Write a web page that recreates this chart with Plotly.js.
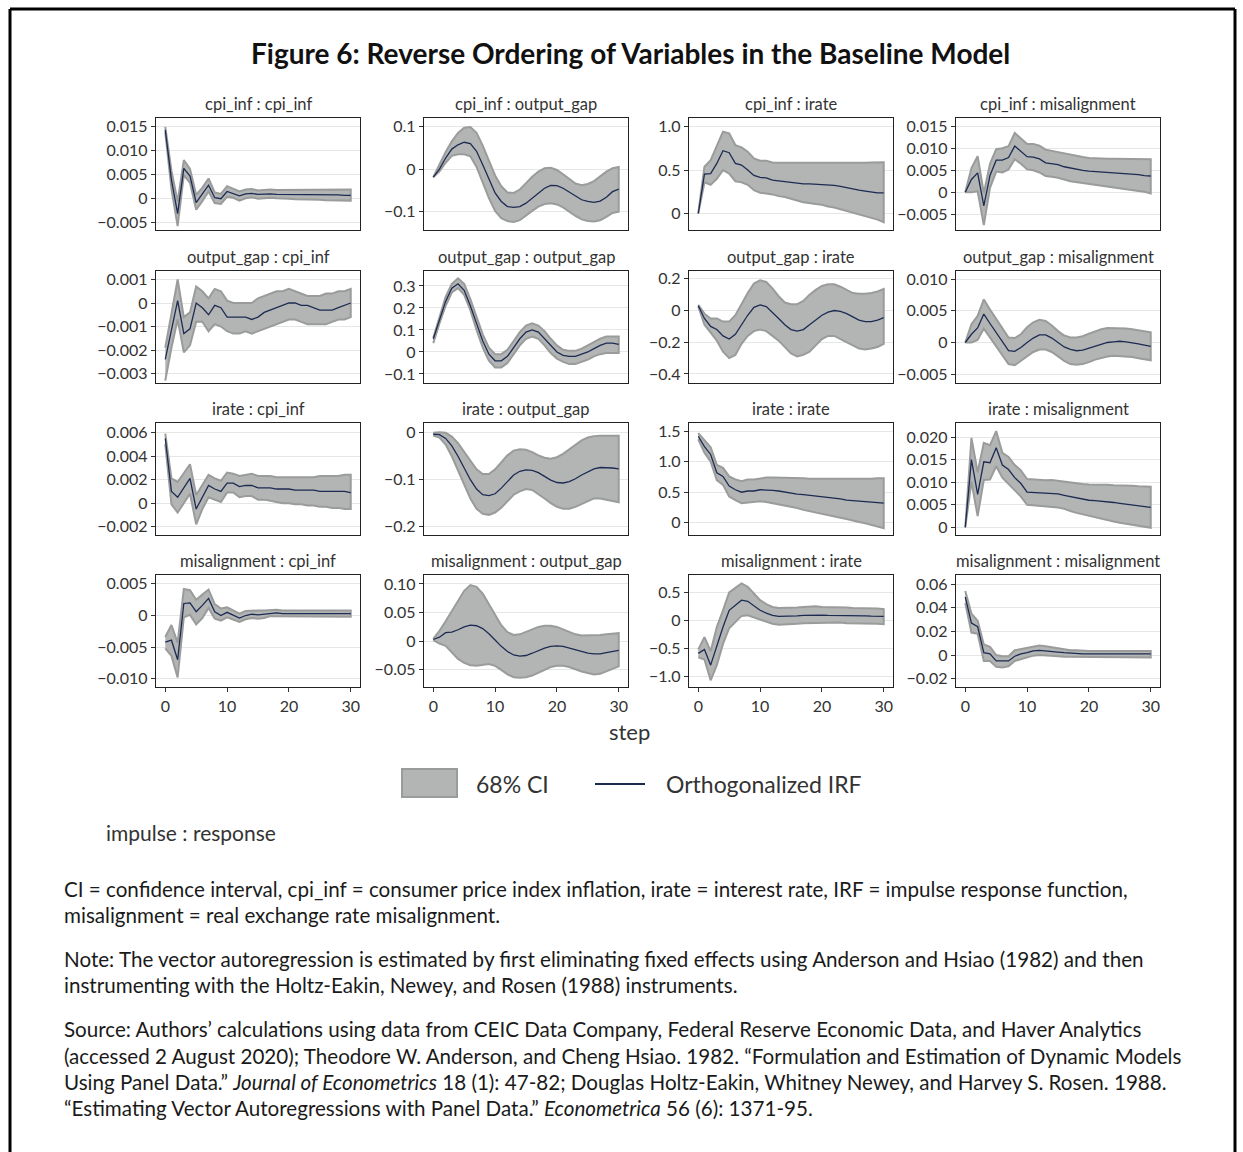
<!DOCTYPE html>
<html>
<head>
<meta charset="utf-8">
<script src="https://cdn.plot.ly/plotly-3.0.1.min.js"></script>
<style>html,body{margin:0;padding:0;background:#fff;}#chart{width:1243px;height:1152px;}</style>
</head>
<body>
<div id="chart"></div>
<script>
// ---------------- DATA ----------------
const steps = [0,1,2,3,4,5,6,7,8,9,10,11,12,13,14,15,16,17,18,19,20,21,22,23,24,25,26,27,28,29,30];

const impulses = ["cpi_inf","output_gap","irate","misalignment"];
const responses = ["cpi_inf","output_gap","irate","misalignment"];

// cpi_inf : cpi_inf
const cpi_cpi_irf = [0.0143,0.0039,-0.0031,0.0063,0.0047,-0.0008,0.0010,0.0028,0.0002,0.0000,0.0015,0.0011,0.0006,0.0010,0.0011,0.0009,0.0010,0.0010,0.0009,0.0009,0.0009,0.0009,0.0009,0.0008,0.0008,0.0008,0.0008,0.0008,0.0008,0.0007,0.0007];
const cpi_cpi_lo  = [0.0138,0.0020,-0.0057,0.0049,0.0033,-0.0023,-0.0005,0.0015,-0.0009,-0.0011,0.0004,0.0002,-0.0004,0.0001,0.0003,0.0000,0.0001,0.0002,0.0001,0.0000,0.0000,-0.0001,-0.0001,-0.0002,-0.0002,-0.0002,-0.0003,-0.0003,-0.0003,-0.0004,-0.0004];
const cpi_cpi_hi  = [0.0149,0.0058,-0.0006,0.0080,0.0062,0.0008,0.0023,0.0042,0.0013,0.0010,0.0026,0.0020,0.0015,0.0019,0.0020,0.0017,0.0018,0.0019,0.0018,0.0018,0.0018,0.0018,0.0018,0.0018,0.0018,0.0018,0.0019,0.0019,0.0019,0.0019,0.0019];

// cpi_inf : output_gap
const cpi_og_irf = [-0.019,0.000,0.026,0.047,0.057,0.063,0.060,0.042,0.010,-0.025,-0.056,-0.076,-0.088,-0.090,-0.088,-0.080,-0.068,-0.056,-0.045,-0.038,-0.039,-0.045,-0.054,-0.063,-0.072,-0.076,-0.078,-0.075,-0.066,-0.053,-0.047];
const cpi_og_lo  = [-0.019,-0.005,0.015,0.031,0.035,0.035,0.030,0.005,-0.030,-0.068,-0.098,-0.115,-0.122,-0.124,-0.120,-0.110,-0.098,-0.088,-0.082,-0.080,-0.083,-0.090,-0.100,-0.110,-0.118,-0.122,-0.123,-0.120,-0.112,-0.103,-0.100];
const cpi_og_hi  = [-0.019,0.010,0.040,0.065,0.085,0.097,0.099,0.085,0.055,0.020,-0.015,-0.040,-0.055,-0.056,-0.048,-0.033,-0.018,-0.006,0.002,0.003,-0.002,-0.012,-0.024,-0.034,-0.038,-0.035,-0.028,-0.017,-0.006,0.002,0.005];

// cpi_inf : irate
const cpi_ir_irf = [0.000,0.454,0.460,0.577,0.723,0.700,0.577,0.558,0.500,0.438,0.415,0.410,0.385,0.377,0.369,0.358,0.346,0.342,0.342,0.338,0.335,0.331,0.323,0.312,0.296,0.281,0.269,0.258,0.246,0.238,0.238];
const cpi_ir_lo  = [0.000,0.360,0.330,0.400,0.500,0.460,0.370,0.360,0.330,0.270,0.240,0.230,0.220,0.200,0.190,0.170,0.150,0.130,0.120,0.110,0.100,0.080,0.070,0.050,0.030,0.010,-0.010,-0.030,-0.050,-0.070,-0.100];
const cpi_ir_hi  = [0.000,0.538,0.615,0.770,0.942,0.923,0.788,0.762,0.712,0.635,0.608,0.608,0.588,0.585,0.585,0.580,0.580,0.580,0.580,0.580,0.578,0.578,0.578,0.578,0.580,0.582,0.584,0.586,0.588,0.590,0.590];

// cpi_inf : misalignment
const cpi_mis_irf = [0.0000,0.0029,0.0044,-0.0031,0.0038,0.0073,0.0073,0.0079,0.0105,0.0094,0.0081,0.0080,0.0076,0.0067,0.0065,0.0063,0.0058,0.0055,0.0053,0.0050,0.0048,0.0047,0.0046,0.0045,0.0044,0.0044,0.0043,0.0041,0.0040,0.0038,0.0037];
const cpi_mis_lo  = [0.0000,0.0000,0.0002,-0.0075,0.0010,0.0047,0.0045,0.0052,0.0075,0.0065,0.0052,0.0050,0.0045,0.0037,0.0035,0.0033,0.0029,0.0025,0.0023,0.0020,0.0018,0.0017,0.0015,0.0013,0.0011,0.0009,0.0007,0.0005,0.0003,0.0001,-0.0003];
const cpi_mis_hi  = [0.0000,0.0055,0.0082,-0.0002,0.0065,0.0098,0.0100,0.0105,0.0135,0.0122,0.0110,0.0110,0.0106,0.0097,0.0094,0.0092,0.0088,0.0085,0.0083,0.0080,0.0078,0.0077,0.0076,0.0076,0.0076,0.0076,0.0076,0.0076,0.0076,0.0075,0.0075];

// output_gap : cpi_inf
const og_cpi_irf = [-0.0024,-0.0012,0.0001,-0.0013,-0.0011,0.0000,-0.0002,-0.0005,-0.0001,-0.0002,-0.0006,-0.0006,-0.0006,-0.0006,-0.0007,-0.0006,-0.0004,-0.0003,-0.0002,-0.0001,0.0000,0.0000,-0.0001,-0.0001,-0.0002,-0.0003,-0.0003,-0.0003,-0.0002,-0.0001,0.0000];
const og_cpi_lo  = [-0.0033,-0.0019,-0.0007,-0.0021,-0.0018,-0.0008,-0.0008,-0.0012,-0.0009,-0.0010,-0.0012,-0.0013,-0.0013,-0.0012,-0.0013,-0.0012,-0.0011,-0.0010,-0.0009,-0.0008,-0.0007,-0.0007,-0.0008,-0.0009,-0.0009,-0.0009,-0.0009,-0.0008,-0.0007,-0.0007,-0.0006];
const og_cpi_hi  = [-0.0019,-0.0005,0.0010,-0.0006,-0.0004,0.0007,0.0005,0.0002,0.0006,0.0005,0.0001,0.0000,0.0000,0.0000,0.0000,0.0002,0.0003,0.0004,0.0005,0.0005,0.0006,0.0005,0.0004,0.0003,0.0003,0.0003,0.0004,0.0004,0.0005,0.0005,0.0006];

// output_gap : output_gap
const og_og_irf = [0.060,0.150,0.230,0.290,0.310,0.280,0.210,0.130,0.050,-0.010,-0.040,-0.040,-0.020,0.020,0.060,0.090,0.100,0.090,0.060,0.030,0.000,-0.015,-0.020,-0.020,-0.010,0.000,0.015,0.030,0.040,0.040,0.035];
const og_og_lo  = [0.040,0.130,0.210,0.270,0.290,0.260,0.190,0.100,0.020,-0.040,-0.070,-0.070,-0.050,-0.010,0.030,0.060,0.070,0.060,0.030,-0.005,-0.030,-0.045,-0.055,-0.055,-0.045,-0.035,-0.020,-0.010,-0.005,-0.005,-0.005];
const og_og_hi  = [0.065,0.160,0.250,0.310,0.335,0.310,0.240,0.160,0.080,0.020,-0.010,-0.010,0.010,0.050,0.090,0.120,0.130,0.120,0.095,0.060,0.030,0.010,0.005,0.005,0.015,0.030,0.045,0.060,0.070,0.070,0.070];

// output_gap : irate
const og_ir_irf = [0.030,-0.050,-0.100,-0.120,-0.160,-0.180,-0.150,-0.090,-0.030,0.020,0.035,0.025,-0.010,-0.050,-0.090,-0.120,-0.130,-0.120,-0.090,-0.060,-0.030,-0.010,0.000,-0.005,-0.020,-0.040,-0.060,-0.070,-0.070,-0.060,-0.045];
const og_ir_lo  = [0.025,-0.090,-0.140,-0.190,-0.260,-0.300,-0.280,-0.210,-0.160,-0.130,-0.120,-0.130,-0.160,-0.190,-0.230,-0.270,-0.290,-0.280,-0.260,-0.220,-0.180,-0.160,-0.160,-0.180,-0.200,-0.220,-0.240,-0.245,-0.240,-0.230,-0.210];
const og_ir_hi  = [0.035,-0.020,-0.050,-0.050,-0.070,-0.070,-0.030,0.040,0.110,0.170,0.190,0.180,0.140,0.090,0.050,0.040,0.040,0.060,0.100,0.130,0.155,0.165,0.165,0.150,0.130,0.110,0.105,0.105,0.110,0.120,0.135];

// output_gap : misalignment
const og_mis_irf = [0.0000,0.0013,0.0023,0.0045,0.0030,0.0016,0.0002,-0.0013,-0.0014,-0.0008,0.0000,0.0007,0.0012,0.0012,0.0007,0.0000,-0.0007,-0.0011,-0.0013,-0.0012,-0.0009,-0.0005,-0.0002,0.0000,0.0001,0.0002,0.0001,0.0000,-0.0002,-0.0004,-0.0006];
const og_mis_lo  = [0.0000,0.0000,0.0004,0.0022,0.0008,-0.0006,-0.0020,-0.0034,-0.0036,-0.0030,-0.0022,-0.0015,-0.0011,-0.0011,-0.0015,-0.0022,-0.0029,-0.0034,-0.0035,-0.0034,-0.0031,-0.0027,-0.0024,-0.0022,-0.0021,-0.0022,-0.0022,-0.0023,-0.0025,-0.0027,-0.0028];
const og_mis_hi  = [0.0000,0.0029,0.0042,0.0068,0.0052,0.0037,0.0024,0.0008,0.0007,0.0013,0.0024,0.0032,0.0036,0.0034,0.0027,0.0018,0.0011,0.0008,0.0008,0.0010,0.0014,0.0018,0.0021,0.0023,0.0023,0.0023,0.0022,0.0021,0.0019,0.0018,0.0016];

// irate : cpi_inf
const ir_cpi_irf = [0.0055,0.0010,0.0005,0.0013,0.0021,-0.0005,0.0005,0.0015,0.0012,0.0010,0.0017,0.0017,0.0014,0.0015,0.0015,0.0013,0.0013,0.0013,0.0012,0.0012,0.0012,0.0011,0.0011,0.0011,0.0011,0.0010,0.0010,0.0010,0.0010,0.0010,0.0009];
const ir_cpi_lo  = [0.0050,-0.0001,-0.0008,0.0000,0.0008,-0.0018,-0.0005,0.0005,0.0003,0.0001,0.0009,0.0009,0.0005,0.0006,0.0006,0.0003,0.0003,0.0002,0.0001,0.0000,0.0000,-0.0001,-0.0001,-0.0002,-0.0002,-0.0003,-0.0003,-0.0004,-0.0004,-0.0005,-0.0005];
const ir_cpi_hi  = [0.0059,0.0021,0.0018,0.0026,0.0033,0.0007,0.0015,0.0024,0.0021,0.0019,0.0026,0.0025,0.0023,0.0024,0.0025,0.0023,0.0023,0.0023,0.0022,0.0022,0.0022,0.0022,0.0022,0.0022,0.0022,0.0023,0.0023,0.0023,0.0023,0.0024,0.0024];

// irate : output_gap
const ir_og_irf = [-0.003,-0.004,-0.012,-0.028,-0.050,-0.075,-0.100,-0.120,-0.132,-0.134,-0.130,-0.118,-0.103,-0.090,-0.082,-0.079,-0.080,-0.085,-0.093,-0.101,-0.106,-0.107,-0.104,-0.098,-0.090,-0.083,-0.077,-0.074,-0.074,-0.075,-0.077];
const ir_og_lo  = [-0.006,-0.010,-0.025,-0.050,-0.080,-0.110,-0.140,-0.162,-0.173,-0.175,-0.170,-0.160,-0.145,-0.132,-0.125,-0.120,-0.122,-0.130,-0.140,-0.150,-0.158,-0.162,-0.162,-0.158,-0.152,-0.146,-0.140,-0.140,-0.142,-0.145,-0.148];
const ir_og_hi  = [0.000,0.001,0.000,-0.008,-0.022,-0.040,-0.060,-0.078,-0.088,-0.088,-0.078,-0.062,-0.048,-0.038,-0.035,-0.036,-0.041,-0.048,-0.053,-0.055,-0.052,-0.045,-0.035,-0.025,-0.016,-0.010,-0.007,-0.006,-0.006,-0.006,-0.006];

// irate : irate
const ir_ir_irf = [1.42,1.25,1.12,0.82,0.76,0.60,0.54,0.50,0.52,0.52,0.54,0.54,0.53,0.52,0.50,0.48,0.47,0.46,0.45,0.44,0.43,0.42,0.40,0.39,0.37,0.36,0.35,0.34,0.335,0.33,0.32];
const ir_ir_lo  = [1.37,1.15,1.00,0.70,0.62,0.43,0.37,0.32,0.34,0.34,0.35,0.34,0.32,0.31,0.28,0.26,0.24,0.21,0.19,0.17,0.15,0.13,0.10,0.08,0.06,0.04,0.01,-0.01,-0.04,-0.06,-0.09];
const ir_ir_hi  = [1.47,1.35,1.24,0.95,0.90,0.76,0.71,0.68,0.71,0.71,0.73,0.74,0.74,0.74,0.74,0.73,0.73,0.73,0.72,0.72,0.72,0.72,0.71,0.71,0.71,0.71,0.71,0.72,0.72,0.73,0.73];

// irate : misalignment
const ir_mis_irf = [0.0000,0.0150,0.0073,0.0145,0.0143,0.0176,0.0138,0.0128,0.0110,0.0097,0.0078,0.0077,0.0076,0.0075,0.0074,0.0074,0.0071,0.0068,0.0065,0.0062,0.0060,0.0059,0.0058,0.0056,0.0055,0.0053,0.0051,0.0049,0.0047,0.0046,0.0044];
const ir_mis_lo  = [0.0000,0.0101,0.0025,0.0105,0.0106,0.0135,0.0110,0.0098,0.0082,0.0068,0.0050,0.0048,0.0048,0.0046,0.0045,0.0044,0.0041,0.0036,0.0032,0.0028,0.0025,0.0022,0.0019,0.0016,0.0013,0.0010,0.0008,0.0006,0.0004,0.0001,-0.0001];
const ir_mis_hi  = [0.0000,0.0198,0.0122,0.0187,0.0182,0.0213,0.0165,0.0156,0.0138,0.0126,0.0107,0.0106,0.0104,0.0104,0.0105,0.0103,0.0101,0.0100,0.0098,0.0096,0.0095,0.0095,0.0094,0.0094,0.0093,0.0093,0.0092,0.0092,0.0091,0.0091,0.0090];

// misalignment : cpi_inf
const mis_cpi_irf = [-0.0042,-0.0039,-0.0070,0.0019,0.0020,0.0006,0.0016,0.0027,0.0006,0.0000,0.0005,0.0000,-0.0004,0.0000,0.0002,0.0001,0.0002,0.0004,0.0004,0.0003,0.0003,0.0003,0.0003,0.0003,0.0003,0.0003,0.0003,0.0003,0.0003,0.0003,0.0003];
const mis_cpi_lo  = [-0.0052,-0.0064,-0.0098,-0.0003,0.0001,-0.0014,-0.0004,0.0012,-0.0005,-0.0008,-0.0003,-0.0007,-0.0010,-0.0006,-0.0004,-0.0005,-0.0004,-0.0001,-0.0001,-0.0002,-0.0002,-0.0002,-0.0002,-0.0002,-0.0002,-0.0002,-0.0002,-0.0002,-0.0002,-0.0002,-0.0002];
const mis_cpi_hi  = [-0.0034,-0.0015,-0.0043,0.0042,0.0040,0.0025,0.0033,0.0041,0.0018,0.0011,0.0013,0.0008,0.0003,0.0007,0.0008,0.0008,0.0008,0.0009,0.0009,0.0008,0.0008,0.0008,0.0008,0.0008,0.0008,0.0008,0.0008,0.0008,0.0008,0.0008,0.0008];

// misalignment : output_gap
const mis_og_irf = [0.003,0.007,0.015,0.016,0.020,0.025,0.028,0.027,0.022,0.013,0.002,-0.009,-0.018,-0.024,-0.026,-0.025,-0.021,-0.016,-0.012,-0.009,-0.008,-0.009,-0.012,-0.016,-0.019,-0.021,-0.022,-0.022,-0.020,-0.018,-0.016];
const mis_og_lo  = [0.002,-0.004,-0.008,-0.020,-0.031,-0.038,-0.042,-0.043,-0.041,-0.040,-0.043,-0.050,-0.058,-0.063,-0.064,-0.063,-0.060,-0.055,-0.050,-0.045,-0.043,-0.043,-0.045,-0.049,-0.053,-0.056,-0.058,-0.057,-0.053,-0.048,-0.044];
const mis_og_hi  = [0.004,0.018,0.035,0.052,0.070,0.088,0.098,0.095,0.083,0.065,0.045,0.028,0.016,0.011,0.012,0.016,0.021,0.025,0.027,0.027,0.025,0.021,0.016,0.012,0.010,0.010,0.010,0.011,0.012,0.013,0.014];

// misalignment : irate
const mis_ir_irf = [-0.59,-0.52,-0.80,-0.45,-0.12,0.18,0.27,0.36,0.34,0.26,0.18,0.13,0.09,0.07,0.07,0.075,0.08,0.09,0.095,0.095,0.095,0.09,0.09,0.09,0.085,0.085,0.08,0.08,0.075,0.07,0.07];
const mis_ir_lo  = [-0.66,-0.70,-1.07,-0.80,-0.42,-0.14,-0.03,0.08,0.09,0.06,0.02,-0.02,-0.06,-0.08,-0.08,-0.07,-0.06,-0.05,-0.04,-0.04,-0.04,-0.04,-0.04,-0.04,-0.05,-0.05,-0.05,-0.06,-0.06,-0.06,-0.07];
const mis_ir_hi  = [-0.52,-0.30,-0.55,-0.12,0.18,0.50,0.58,0.66,0.60,0.48,0.36,0.29,0.24,0.22,0.22,0.22,0.23,0.24,0.25,0.25,0.24,0.24,0.24,0.23,0.23,0.22,0.22,0.21,0.21,0.21,0.20];

// misalignment : misalignment
const mis_mis_irf = [0.049,0.027,0.024,0.002,0.001,-0.005,-0.005,-0.005,-0.001,0.001,0.002,0.0035,0.004,0.0037,0.003,0.0025,0.002,0.0015,0.001,0.001,0.001,0.001,0.001,0.001,0.001,0.001,0.001,0.001,0.001,0.001,0.001];
const mis_mis_lo  = [0.044,0.019,0.018,-0.005,-0.005,-0.010,-0.0105,-0.0095,-0.005,-0.003,-0.002,-0.0005,0.000,0.000,-0.0005,-0.001,-0.0015,-0.0015,-0.002,-0.002,-0.002,-0.002,-0.002,-0.002,-0.002,-0.002,-0.002,-0.002,-0.002,-0.002,-0.002];
const mis_mis_hi  = [0.054,0.035,0.029,0.009,0.007,0.000,-0.001,-0.001,0.004,0.005,0.0065,0.0075,0.008,0.0075,0.0065,0.0055,0.0045,0.004,0.004,0.0035,0.0035,0.0035,0.0035,0.0035,0.0035,0.0035,0.0035,0.0035,0.0035,0.0035,0.0035];

// y tick values and labels per panel (row-major)
const yTickVals = [
  [-0.005,0,0.005,0.010,0.015], [-0.1,0,0.1], [0,0.5,1.0], [-0.005,0,0.005,0.010,0.015],
  [-0.003,-0.002,-0.001,0,0.001], [-0.1,0,0.1,0.2,0.3], [-0.4,-0.2,0,0.2], [-0.005,0,0.005,0.010],
  [-0.002,0,0.002,0.004,0.006], [-0.2,-0.1,0], [0,0.5,1.0,1.5], [0,0.005,0.010,0.015,0.020],
  [-0.010,-0.005,0,0.005], [-0.05,0,0.05,0.10], [-1.0,-0.5,0,0.5], [-0.02,0,0.02,0.04,0.06]
];
const yTickText = [
  ["−0.005","0","0.005","0.010","0.015"], ["−0.1","0","0.1"], ["0","0.5","1.0"], ["−0.005","0","0.005","0.010","0.015"],
  ["−0.003","−0.002","−0.001","0","0.001"], ["−0.1","0","0.1","0.2","0.3"], ["−0.4","−0.2","0","0.2"], ["−0.005","0","0.005","0.010"],
  ["−0.002","0","0.002","0.004","0.006"], ["−0.2","−0.1","0"], ["0","0.5","1.0","1.5"], ["0","0.005","0.010","0.015","0.020"],
  ["−0.010","−0.005","0","0.005"], ["−0.05","0","0.05","0.10"], ["−1.0","−0.5","0","0.5"], ["−0.02","0","0.02","0.04","0.06"]
];
const xTickVals = [0,10,20,30];
const xTickText = ["0","10","20","30"];

const series = [
  [cpi_cpi_irf,cpi_cpi_lo,cpi_cpi_hi],[cpi_og_irf,cpi_og_lo,cpi_og_hi],[cpi_ir_irf,cpi_ir_lo,cpi_ir_hi],[cpi_mis_irf,cpi_mis_lo,cpi_mis_hi],
  [og_cpi_irf,og_cpi_lo,og_cpi_hi],[og_og_irf,og_og_lo,og_og_hi],[og_ir_irf,og_ir_lo,og_ir_hi],[og_mis_irf,og_mis_lo,og_mis_hi],
  [ir_cpi_irf,ir_cpi_lo,ir_cpi_hi],[ir_og_irf,ir_og_lo,ir_og_hi],[ir_ir_irf,ir_ir_lo,ir_ir_hi],[ir_mis_irf,ir_mis_lo,ir_mis_hi],
  [mis_cpi_irf,mis_cpi_lo,mis_cpi_hi],[mis_og_irf,mis_og_lo,mis_og_hi],[mis_ir_irf,mis_ir_lo,mis_ir_hi],[mis_mis_irf,mis_mis_lo,mis_mis_hi]
];

// ---------------- LAYOUT ----------------
const W = 1243, H = 1152;
const FONT = "Lato, 'Noto Sans', sans-serif";
const px = v => v / W;
const py = v => 1 - v / H;

const colPix = [[156,360],[424,628],[689,893],[956,1160]];
const rowPix = [[118,230],[271,383],[423,535],[575,687]];
const yRanges = [
  [-0.0065,0.01675],[-0.143,0.12],[-0.19,1.10],[-0.0086,0.0169],
  [-0.0034,0.00136],[-0.141,0.368],[-0.457,0.249],[-0.0064,0.0113],
  [-0.0027,0.0068],[-0.218,0.021],[-0.203,1.637],[-0.0017,0.0231],
  [-0.0113,0.0064],[-0.080,0.1157],[-1.19,0.81],[-0.027,0.0676]
];

const FILL = "#b3b5b5", EDGE = "#9a9b9b", NAVY = "#1d2b52", TXT = "#333333";

const traces = [];
const layout = {
  width: W, height: H,
  margin: {l:0, r:0, t:0, b:0},
  paper_bgcolor: "#fff", plot_bgcolor: "#fff",
  showlegend: false,
  font: {family: FONT, color: TXT},
  annotations: [], shapes: []
};

for (let i = 0; i < 16; i++) {
  const r = Math.floor(i / 4), c = i % 4;
  const n = i + 1;
  const xa = n === 1 ? "x" : "x" + n, ya = n === 1 ? "y" : "y" + n;
  const [irf, lo, hi] = series[i];
  const polyX = steps.concat(steps.slice().reverse());
  const polyY = hi.concat(lo.slice().reverse());
  traces.push({x: polyX, y: polyY, xaxis: xa, yaxis: ya, type: "scatter", mode: "lines",
    fill: "toself", fillcolor: FILL, line: {color: EDGE, width: 2}, hoverinfo: "skip", name: "68% CI"});
  traces.push({x: steps, y: irf, xaxis: xa, yaxis: ya, type: "scatter", mode: "lines",
    line: {color: NAVY, width: 1.3}, name: "Orthogonalized IRF"});
  const xKey = n === 1 ? "xaxis" : "xaxis" + n, yKey = n === 1 ? "yaxis" : "yaxis" + n;
  layout[xKey] = {
    domain: [px(colPix[c][0]), px(colPix[c][1])], anchor: ya, range: [-1.5, 31.5],
    showgrid: false, zeroline: false, showline: true, mirror: true, linecolor: "#222", linewidth: 1.3,
    tickmode: "array", tickvals: xTickVals, ticktext: xTickText,
    ticks: r === 3 ? "outside" : "", ticklen: 4, tickcolor: "#333", showticklabels: r === 3,
    tickfont: {size: 16, color: TXT, family: FONT}
  };
  layout[yKey] = {
    domain: [py(rowPix[r][1]), py(rowPix[r][0])], anchor: xa, range: yRanges[i],
    showgrid: true, gridcolor: "#e6e6e6", gridwidth: 1, zeroline: false,
    showline: true, mirror: true, linecolor: "#222", linewidth: 1.3,
    tickmode: "array", tickvals: yTickVals[i], ticktext: yTickText[i],
    ticks: "outside", ticklen: 4, tickcolor: "#333",
    tickfont: {size: 16, color: TXT, family: FONT}
  };
  layout.annotations.push({
    text: impulses[r] + " : " + responses[c], xref: "paper", yref: "paper",
    x: px((colPix[c][0] + colPix[c][1]) / 2), y: py(rowPix[r][0] - 14),
    xanchor: "center", yanchor: "middle", showarrow: false, font: {size: 16.5, color: TXT, family: FONT}
  });
}

function note(text, x, y, size, opts) {
  layout.annotations.push(Object.assign({
    text: text, xref: "paper", yref: "paper", x: px(x), y: py(y), xanchor: "left", yanchor: "middle",
    showarrow: false, align: "left", font: {size: size, color: "#1a1a1a", family: FONT}
  }, opts || {}));
}

// title
layout.annotations.push({text: "<b>Figure 6: Reverse Ordering of Variables in the Baseline Model</b>",
  xref: "paper", yref: "paper", x: px(630), y: py(53), xanchor: "center", yanchor: "middle", showarrow: false,
  font: {size: 28, color: "#111", family: FONT}});
// axis title
layout.annotations.push({text: "step", xref: "paper", yref: "paper", x: px(629), y: py(731),
  xanchor: "center", yanchor: "middle", showarrow: false, font: {size: 22, color: TXT, family: FONT}});

// legend
layout.shapes.push({type: "rect", xref: "paper", yref: "paper", x0: px(402), x1: px(457), y0: py(797), y1: py(769),
  fillcolor: FILL, line: {color: EDGE, width: 2}});
note("68% CI", 474, 784, 23, {font: {size: 23, color: TXT, family: FONT}});
layout.shapes.push({type: "line", xref: "paper", yref: "paper", x0: px(595), x1: px(645), y0: py(784), y1: py(784),
  line: {color: NAVY, width: 2}});
note("Orthogonalized IRF", 664, 784, 23, {font: {size: 23, color: TXT, family: FONT}});

note("impulse : response", 104, 832, 21, {font: {size: 21, color: TXT, family: FONT}});

// notes
const NS = 20.6;
note("CI = confidence interval, cpi_inf = consumer price index inflation, irate = interest rate, IRF = impulse response function,", 62, 889, NS);
note("misalignment = real exchange rate misalignment.", 62, 915, NS);
note("Note: The vector autoregression is estimated by first eliminating fixed effects using Anderson and Hsiao (1982) and then", 62, 959, NS);
note("instrumenting with the Holtz-Eakin, Newey, and Rosen (1988) instruments.", 62, 985, NS);
note("Source: Authors’ calculations using data from CEIC Data Company, Federal Reserve Economic Data, and Haver Analytics", 62, 1029, NS);
note("(accessed 2 August 2020); Theodore W. Anderson, and Cheng Hsiao. 1982. “Formulation and Estimation of Dynamic Models", 62, 1056, NS);
note("Using Panel Data.” <i>Journal of Econometrics</i> 18 (1): 47-82; Douglas Holtz-Eakin, Whitney Newey, and Harvey S. Rosen. 1988.", 62, 1082, NS);
note("“Estimating Vector Autoregressions with Panel Data.” <i>Econometrica</i> 56 (6): 1371-95.", 62, 1108, NS);

// outer frame (top, left, right)
const frame = {color: "#000", width: 3};
layout.shapes.push({type: "line", xref: "paper", yref: "paper", x0: px(10), x1: px(1235), y0: py(9), y1: py(9), line: frame});
layout.shapes.push({type: "line", xref: "paper", yref: "paper", x0: px(10), x1: px(10), y0: py(9), y1: 0, line: frame});
layout.shapes.push({type: "line", xref: "paper", yref: "paper", x0: px(1235), x1: px(1235), y0: py(9), y1: 0, line: frame});

Plotly.newPlot("chart", traces, layout, {staticPlot: true, displayModeBar: false});
</script>
</body>
</html>
